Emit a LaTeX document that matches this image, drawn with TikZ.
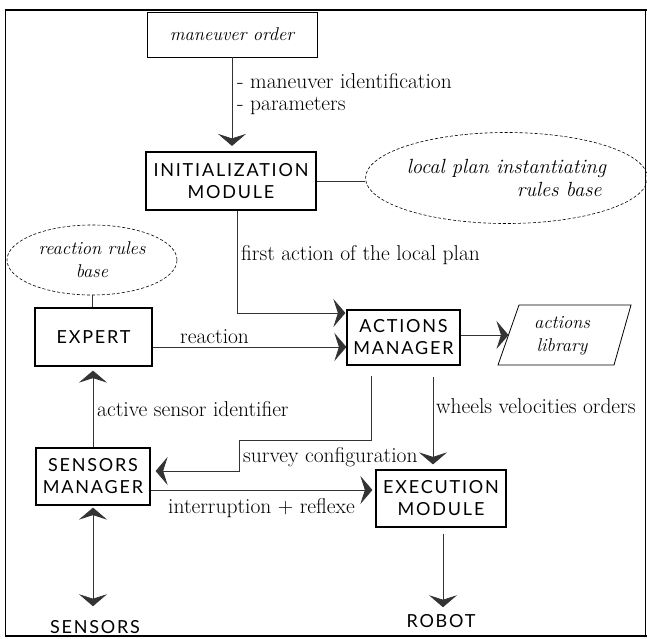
\documentclass[tikz,border=0pt]{standalone}
\usepackage{fontspec}
\usetikzlibrary{arrows.meta,shapes.geometric}
\newfontfamily\mycapfont[LetterSpace=10]{Lato}
\newcommand{\capsz}{\mycapfont\fontsize{18}{22}\selectfont}
\newcommand{\lblsz}{\fontsize{21.5}{23}\selectfont}
\newcommand{\itsz}{\itshape\fontsize{18.5}{23}\selectfont}
\newcommand{\itbig}{\itshape\fontsize{20.5}{23}\selectfont}
\tikzset{
  chev/.tip={Stealth[length=12pt,width=28pt,inset=4.5pt]},
  box/.style={draw, line width=1.2pt, inner sep=0pt, align=center, font=\capsz},
  conn/.style={line width=0.7pt, draw=black!80},
  arr/.style={conn, -chev},
  darr/.style={conn, chev-chev},
  lbl/.style={inner sep=0pt, font=\lblsz},
  dashell/.style={ellipse, draw, dash pattern=on 3pt off 2pt, line width=0.6pt, inner sep=0pt, font=\itsz},
}
\begin{document}
\begin{tikzpicture}[x=1pt,y=-1pt]
\useasboundingbox (0,0) rectangle (647,638);
% frame
\draw[line width=0.8pt] (5,10) -- (5,636);
\draw[line width=0.6pt] (645,10) -- (645,636);
\draw[line width=2pt] (5,10) -- (647,10);
\draw[line width=2pt] (5,636) -- (647,636);

% nodes
\node[box, line width=0.9pt, minimum width=170pt, minimum height=45pt, font=\itsz] (mo) at (232,34.5) {maneuver order};
\node[box, line width=2.2pt, minimum width=170pt, minimum height=58pt] (init) at (231,181) {INITIALIZATION\\MODULE};
\node[dashell, minimum width=217pt, minimum height=91pt, align=left, font=\itbig] (lp) at (506.5,178) {local plan instantiating\\\hspace*{110pt}rules base};
\node[dashell, minimum width=170pt, minimum height=70pt, align=center] (rr) at (92,260) {reaction rules\\base};
\node[box, minimum width=117pt, minimum height=58pt] (expert) at (93.5,337) {EXPERT};
\node[box, minimum width=113pt, minimum height=55pt] (am) at (403.5,337.5) {ACTIONS\\MANAGER};
\node[box, minimum width=114pt, minimum height=57pt] (sm) at (93,476.5) {SENSORS\\MANAGER};
\node[box, minimum width=130pt, minimum height=57pt] (ex) at (441,498.5) {EXECUTION\\MODULE};
\node[inner sep=0pt, align=center, font=\itsz] (lib) at (562,335.5) {actions\\library};
\draw[line width=0.8pt] (498,365) -- (519,305) -- (631,305) -- (614,365) -- cycle;
\coordinate (libw) at (508.5,335);
\node[inner sep=0pt, font=\capsz] (sens) at (95,627) {SENSORS};
\node[inner sep=0pt, font=\capsz] (robot) at (441,621) {ROBOT};

% labels
\node[lbl, anchor=base west] (l1) at (237,88) {- maneuver identification};
\node[lbl, anchor=base west] (l2) at (237,110) {- parameters};
\node[lbl, anchor=base west] (l3) at (241,260) {first action of the local plan};
\node[lbl, anchor=base west] (l4) at (180,343) {reaction};
\node[lbl, anchor=base west] (l5) at (97,416) {active sensor identifier};
\node[lbl, anchor=base west] (l6) at (436,413) {wheels velocities orders};
\node[lbl, anchor=base west] (l7) at (243,462) {survey configuration};
\node[lbl, anchor=base west] (l8) at (168,513) {interruption + reflexe};

% helper coordinates
\coordinate (s0) at ([xshift=-32.5pt]am.south);
\coordinate (s1) at (239,440);
\coordinate (w0) at ([xshift=29.5pt]am.south);
\coordinate (i0) at ([yshift=-13.5pt]sm.east);
\coordinate (r0) at ([xshift=2pt]ex.south);
\coordinate (f0) at ([xshift=6pt]init.south);
\coordinate (e0) at ([yshift=-10pt]expert.east);

% connectors
\draw[arr, shorten >=5pt] (mo.south) -- (mo.south |- init.north);
\draw[conn] (init.east) -- (init.east -| lp.west);
\draw[arr, shorten >=1pt] (f0) |- ([yshift=24.5pt]am.west);
\draw[conn] (rr.south) -- (rr.south |- expert.north);
\draw[arr] (e0) -- (e0 -| am.west);
\draw[arr, shorten >=4pt] (sm.north) -- (sm.north |- expert.south);
\draw[arr] ([yshift=2.5pt]am.east) -- (libw);
\draw[arr, shorten <=10pt, shorten >=5pt] (s0) |- (s1) |- ([yshift=5.5pt]sm.east);
\draw[arr, shorten <=11pt, shorten >=5pt] (w0) -- (w0 |- ex.north);
\draw[arr, shorten >=3pt] (i0) -- (i0 -| ex.west);
\draw[arr, shorten <=6pt, shorten >=7pt] (r0) -- (r0 |- robot.north);
\draw[darr, shorten <=2pt, shorten >=14pt] (sm.south) -- (sm.south |- sens.north);
\end{tikzpicture}
\end{document}
